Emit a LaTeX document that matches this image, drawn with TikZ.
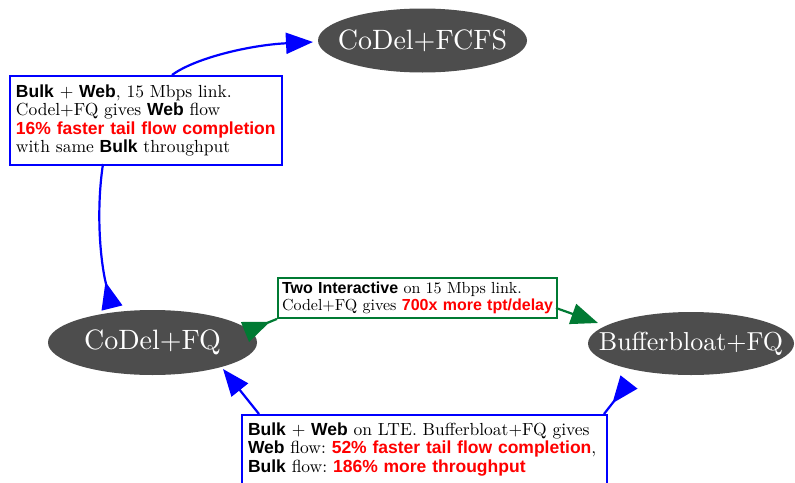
\documentclass[tikz,border=0pt]{standalone}
\usepackage{fontspec}
\setmainfont{lmroman10-regular}[Extension=.otf]
\newfontfamily\hvfam{Liberation Sans}
\usetikzlibrary{shapes.geometric,arrows.meta}
\definecolor{nodegray}{RGB}{77,77,77}
\definecolor{edgegreen}{RGB}{0,122,51}
\newcommand\bsans[1]{{\hvfam\bfseries #1}}
\newcommand\rsans[1]{{\hvfam\bfseries\color{red}#1}}
\frenchspacing
\begin{document}
\begin{tikzpicture}[x=1pt,y=-1pt,
  state/.style={ellipse, fill=nodegray, text=white, inner xsep=-30pt, inner ysep=0pt,
    outer sep=0pt, minimum width=209pt, minimum height=65pt, font=\fontsize{28}{32}\selectfont},
  note/.style={draw, line width=2pt, fill=white, anchor=north west, align=left},
  bluenote/.style={note, draw=blue},
  greennote/.style={note, draw=edgegreen},
  link/.style={line width=2.2pt},
  bluelink/.style={link, draw=blue},
  greenlink/.style={link, draw=edgegreen},
  headin/.style={-{Triangle[length=27pt,width=21pt]}},
  headout/.style={-{Triangle[reversed,length=27pt,width=21pt]}},
]
\useasboundingbox (0,0) rectangle (795,482);

% states
\node[state, minimum height=64pt] (fcfs) at (422.5,40.5) {CoDel+FCFS};
\node[state] (fq) at (152.5,342.5) {CoDel+FQ};
\node[state, minimum width=206pt, minimum height=63pt, font=\fontsize{26}{30}\selectfont] (bb) at (691,343.5) {Bufferbloat+FQ};

% annotation boxes
\node[bluenote, text width=260pt, inner xsep=6pt, inner ysep=9pt,
  font=\fontsize{17.5}{18.3}\selectfont] (b1) at (9,75)
  {\mbox{\bsans{Bulk} + \bsans{Web}, 15 Mbps link.}\\
   \mbox{Codel+FQ gives \bsans{Web} flow}\\
   \mbox{\rsans{16\% faster tail flow completion}}\\
   \mbox{with same \bsans{Bulk} throughput}};
\node[greennote, text width=271pt, inner xsep=4pt, inner ysep=4pt,
  font=\fontsize{16}{17}\selectfont] (b2) at (277,277)
  {\mbox{\bsans{Two Interactive} on 15 Mbps link.}\\
   \mbox{Codel+FQ gives \rsans{700x more tpt/delay}}};
\node[bluenote, text width=353pt, inner xsep=6pt, inner ysep=8pt,
  font=\fontsize{17.5}{18.3}\selectfont] (b3) at (241,414)
  {\mbox{\bsans{Bulk} + \bsans{Web} on LTE. Bufferbloat+FQ gives}\\
   \mbox{\bsans{Web} flow: \rsans{52\% faster tail flow completion},}\\
   \mbox{\bsans{Bulk} flow: \rsans{186\% more throughput}}};

% connector end points
\coordinate (e1s) at (172,75);
\coordinate (e1t) at (313,42);
\coordinate (e1b) at (103,164);
\coordinate (e1n) at (112,308);
\coordinate (g1n) at (245,332);
\coordinate (g2b) at (556,308);
\coordinate (g2t) at (598,323);
\coordinate (b3l) at (259,414);
\coordinate (b3lt) at (223,369);
\coordinate (b3r) at (604,414);
\coordinate (b3rn) at (629,382);

% connectors
\draw[bluelink, headin] (e1s) .. controls (195,58) and (250,45) .. (e1t);
\draw[bluelink, headout] (e1b) .. controls (96,210) and (100,260) .. (e1n);
\draw[greenlink, headout] (b2.south west) -- (g1n);
\draw[greenlink, headin] (g2b) -- (g2t);
\draw[bluelink, headin] (b3l) -- (b3lt);
\draw[bluelink, headout] (b3r) -- (b3rn);
\end{tikzpicture}
\end{document}
